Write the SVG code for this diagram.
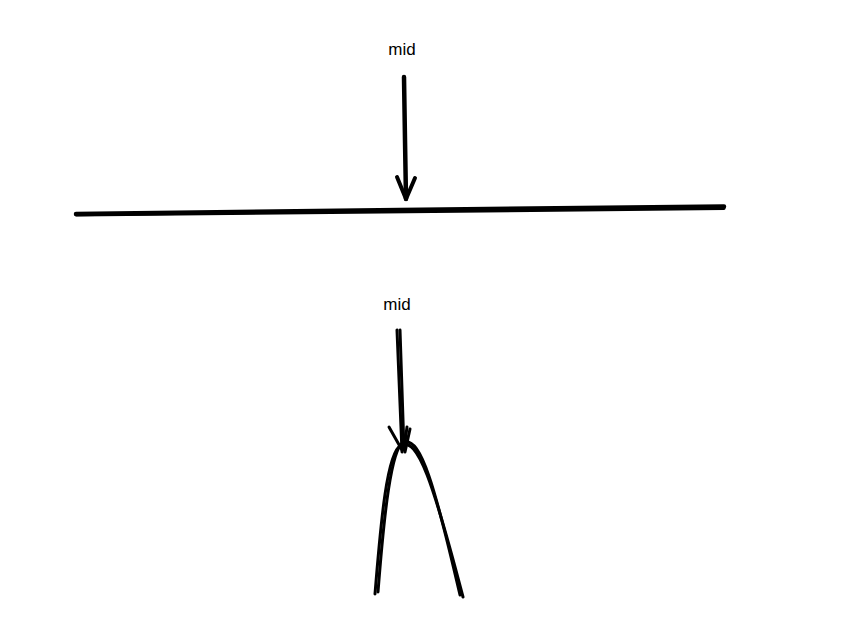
<svg xmlns="http://www.w3.org/2000/svg" width="847" height="643" viewBox="0 0 847 643">
<style>
.lbl{font-family:"Liberation Sans",Arial,sans-serif;font-size:17px;fill:#000;text-anchor:middle}
.s{fill:none;stroke:#000;stroke-linecap:round;stroke-linejoin:round}
</style>
<rect width="847" height="643" fill="#fff"/>
<g id="label-top"><text class="lbl" x="402" y="55">mid</text></g>
<g id="label-bottom"><text class="lbl" x="397" y="310">mid</text></g>
<g id="line"><path class="s" d="M76,214 L400,210 L724,206.5" stroke-width="4.5"/><path class="s" d="M76,215 L724,208.5" stroke-width="3"/></g>
<g id="curve">
<path class="s" stroke-width="3" d="M375,594 C381,520 387,452 401,445 C418,437 433,482 463,597"/>
<path class="s" stroke-width="3" d="M378,592 C384,515 391,447 404,442 C421,437 435,487 460,595"/>
</g>
<g id="connectors">
<path class="s" stroke-width="4.5" d="M404,77 L405,140 L406,199"/>
<path class="s" stroke-width="4" d="M397,177 L406,199 L415,178"/>
<path class="s" stroke-width="3" d="M397,330 L402,452"/>
<path class="s" stroke-width="3" d="M400,330 L404,450"/>
<path class="s" stroke-width="3" d="M389,427 L402,450"/>
<path class="s" stroke-width="3" d="M410,429 L405,452"/>
<path class="s" stroke-width="3" d="M407,427 L404,450"/>
</g>
</svg>
